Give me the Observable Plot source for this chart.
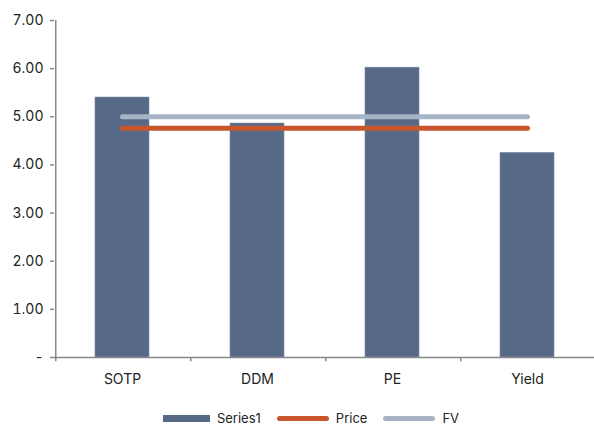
<!DOCTYPE html>
<html><head><meta charset="utf-8">
<script src="https://cdn.jsdelivr.net/npm/d3@7"></script>
<script src="https://cdn.jsdelivr.net/npm/@observablehq/plot@0.6"></script>
<style>
html,body{margin:0;background:#fff;font-family:Inter,"Noto Sans",sans-serif;overflow:hidden;}
#wrap{position:relative;width:594px;height:426px;}
#legend{position:absolute;left:0;top:410px;width:594px;box-sizing:border-box;padding-left:28px;display:flex;justify-content:center;align-items:center;font-size:13px;line-height:16px;color:#222;height:16px;}
.item{display:flex;align-items:center;margin:0 8px;}
.sw{display:inline-block;margin-right:7px;}
</style></head><body>
<div id="wrap">
<div id="chart"></div>
<div id="legend"></div>
</div>
<script>
const categories = ["SOTP","DDM","PE","Yield"];
const series1 = [5.40, 4.86, 6.02, 4.25];
const price = [4.76, 4.76, 4.76, 4.76];
const fv = [5.00, 5.00, 5.00, 5.00];
const yTicks = [0,1,2,3,4,5,6,7];
const yTickLabels = ["-","1.00","2.00","3.00","4.00","5.00","6.00","7.00"];

const colors = {bar:"#566a87", price:"#c8562c", fv:"#a7b4c8", axis:"#888"};
const rows = categories.map((c,i)=>({cat:c, s:series1[i], p:price[i], f:fv[i]}));
const W = 594, ML = 54, MR = 0;
const half = (W - ML - MR) / categories.length / 2;

const plot = Plot.plot({
  width: W, height: 405,
  marginLeft: ML, marginRight: MR, marginTop: 20, marginBottom: 48,
  style:{fontFamily:"Inter, 'Noto Sans', sans-serif", fontSize:"14px", color:"#222"},
  x:{domain:categories, paddingInner:0.6, paddingOuter:0.3, label:null},
  y:{domain:[0,7], label:null},
  marks:[
    Plot.barY(rows,{x:"cat", y:"s", fill:colors.bar, stroke:"#7d8ca4", strokeWidth:0.6}),
    Plot.lineY(rows,{x:"cat", y:"f", stroke:colors.fv, strokeWidth:5, strokeLinecap:"round"}),
    Plot.lineY(rows,{x:"cat", y:"p", stroke:colors.price, strokeWidth:5, strokeLinecap:"round"}),
    Plot.ruleY([0],{stroke:colors.axis, strokeWidth:1.5}),
    Plot.ruleX([0],{x:()=>categories[0], dx:-half+0.75, y1:0, y2:7, stroke:colors.axis, strokeWidth:1.5}),
    Plot.ruleX(categories,{x:d=>d, dx:-half+0.75, y1:0, y2:-0.09, stroke:colors.axis, strokeWidth:1.5}),
    Plot.axisY(yTicks,{tickSize:4, tickPadding:7, tickFormat:(d)=>yTickLabels[yTicks.indexOf(d)], stroke:colors.axis, strokeWidth:1.5, fill:"#222", fontSize:14}),
    Plot.axisX({tickSize:0, tickPadding:17, fontSize:14, fill:"#222"})
  ]
});
document.getElementById("chart").appendChild(plot);

const legendItems = [
  {label:"Series1", kind:"rect", color:colors.bar},
  {label:"Price", kind:"line", color:colors.price},
  {label:"FV", kind:"line", color:colors.fv}
];
const lg = document.getElementById("legend");
for (const it of legendItems){
  const d = document.createElement("div"); d.className="item";
  const s = document.createElement("span"); s.className="sw";
  if (it.kind==="rect"){ s.style.cssText=`width:47px;height:7px;background:${it.color}`; }
  else { s.style.cssText=`width:52px;height:5px;border-radius:3px;background:${it.color}`; }
  d.appendChild(s);
  const t = document.createElement("span"); t.textContent=it.label; d.appendChild(t);
  lg.appendChild(d);
}
</script>
</body></html>
